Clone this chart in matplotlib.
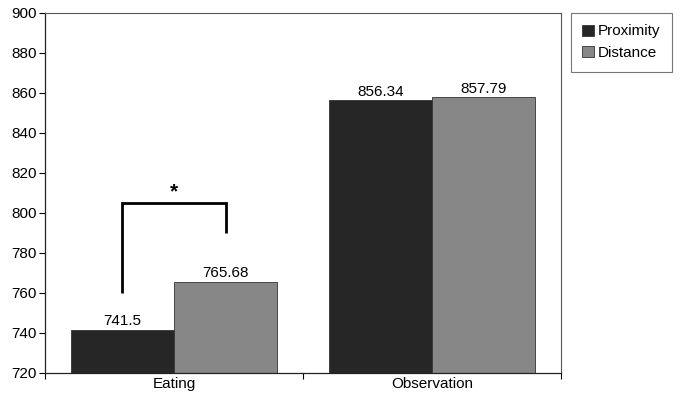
import numpy as np
import matplotlib.pyplot as plt
from matplotlib.ticker import FixedLocator, NullFormatter

plt.rcParams['font.family'] = ['Liberation Sans', 'DejaVu Sans']

# data
categories = ['Eating', 'Observation']
series = ['Proximity', 'Distance']
proximity = [741.5, 856.34]
distance = [765.68, 857.79]
value_labels = [['741.5', '856.34'], ['765.68', '857.79']]
colors = ['#262626', '#878787']

fig = plt.figure(figsize=(6.83, 4.04), dpi=100)
ax = fig.add_axes([45 / 683, 31 / 404, 516 / 683, 360 / 404])

x = np.arange(len(categories))
w = 0.4
for i, vals in enumerate([proximity, distance]):
    ax.bar(x - w / 2 + i * w, np.array(vals) - 720, w, bottom=720,
           color=colors[i], edgecolor='#333333', linewidth=0.6,
           label=series[i])
    for xi, v, lab in zip(x, vals, value_labels[i]):
        ax.text(xi - w / 2 + i * w, v + 0.8, lab, ha='center', va='bottom',
                fontsize=11)

ax.set_xlim(-0.5, 1.5)
ax.set_ylim(720, 900)
ax.set_yticks(np.arange(720, 901, 20))
ax.set_xticks(x)
ax.set_xticklabels(categories, fontsize=11)
ax.tick_params(axis='x', length=0, pad=3)
ax.xaxis.set_minor_locator(FixedLocator([-0.5, 0.5, 1.5]))
ax.xaxis.set_minor_formatter(NullFormatter())
ax.tick_params(axis='x', which='minor', length=4, width=0.8, direction='out')
ax.tick_params(axis='y', length=4, width=0.8, direction='out', labelsize=11, pad=2)
for s in ['top', 'right']:
    ax.spines[s].set_color('#555555')
    ax.spines[s].set_linewidth(0.8)
for s in ['left', 'bottom']:
    ax.spines[s].set_color('#222222')
    ax.spines[s].set_linewidth(0.9)

# significance bracket
bx0, bx1 = x[0] - w / 2, x[0] + w / 2
ax.plot([bx0, bx0, bx1, bx1], [760, 805, 805, 790], color='black', lw=2,
        solid_capstyle='butt', solid_joinstyle='miter')
ax.text(x[0], 806, '*', ha='center', va='bottom', fontsize=15, fontweight='bold')

leg = fig.legend(loc='upper left', bbox_to_anchor=(571 / 683, 1 - 13 / 404),
                 frameon=True, fancybox=False, fontsize=11,
                 handlelength=0.75, handleheight=0.75, handletextpad=0.25,
                 borderpad=0.75, labelspacing=0.5, borderaxespad=0)
leg.get_frame().set_edgecolor('#555555')
leg.get_frame().set_linewidth(0.8)

fig.savefig('out.png', dpi=100)
